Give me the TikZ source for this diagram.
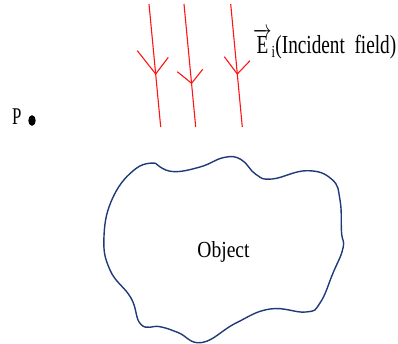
\documentclass[tikz,border=0pt]{standalone}
\usepackage{fontspec}
\setmainfont{Liberation Serif}
\definecolor{objblue}{RGB}{30,58,120}
\definecolor{rayred}{RGB}{255,20,20}
\begin{document}
\begin{tikzpicture}[x=1pt,y=-1pt,
  ray/.style={rayred, line width=1.1pt},
  outline/.style={objblue, line width=1.4pt},
  lbl/.style={inner sep=0, anchor=base west}]
\useasboundingbox (0,0) rectangle (398,344);
% rays
\coordinate (t1) at (149,4);   \coordinate (b1) at (160.7,127);
\coordinate (v1) at (155.7,74); \coordinate (l1) at (137.3,50.7); \coordinate (r1) at (168.3,57.3);
\coordinate (t2) at (184,4);   \coordinate (b2) at (195.7,127);
\coordinate (v2) at (191.6,83.3); \coordinate (l2) at (177.3,71.7); \coordinate (r2) at (202.7,69.3);
\coordinate (t3) at (230.7,4); \coordinate (b3) at (242.3,127);
\coordinate (v3) at (237.3,74); \coordinate (l3) at (224.3,56.7); \coordinate (r3) at (250,60.7);
\foreach \i in {1,2,3}{
  \draw[ray] (t\i) -- (b\i);
  \draw[ray] (l\i) -- (v\i) -- (r\i);
}
% labels
\node[lbl] (E) at (253,54) {\fontsize{26}{26}\selectfont\scalebox{0.74}[1]{$\overrightarrow{\mbox{E}}_{\mbox{\fontsize{17}{17}\selectfont i}}$(Incident\ \ field)}};
\node[lbl] (P) at (12,125) {\fontsize{24}{24}\selectfont\scalebox{0.7}[1]{P}};
\fill (32,120.5) ellipse [x radius=3.7, y radius=5.3];
\node[inner sep=0, anchor=base] (obj) at (223.5,257) {\fontsize{23}{23}\selectfont\scalebox{0.85}[1]{Object}};
% object outline
\draw[outline] plot[smooth, tension=0.75] coordinates {
(155.7,163.3) (172,171.5) (200,167) (224,157.5) (241,159.5) (256,174.5) (272,179)
(307,170.7) (332,179.5) (340,200) (341.5,232) (343,248) (333,273)
(320,303) (306,312) (270,309) (236,323) (202,342.5) (178,332.5) (160,326.7)
(141,324.5) (131,298) (110,270) (104,236) (113.3,196.7) (136,168.5)
(155.7,163.3)};
\end{tikzpicture}
\end{document}
